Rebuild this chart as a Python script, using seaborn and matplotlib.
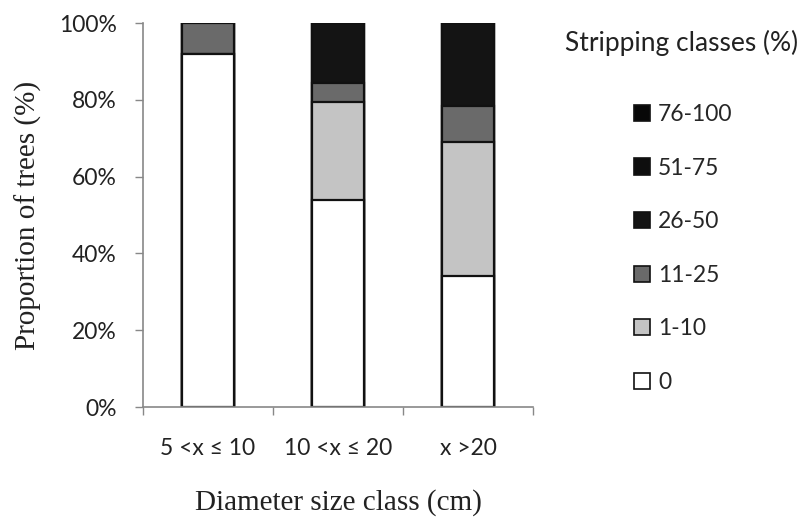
import matplotlib
matplotlib.use("Agg")
import matplotlib.pyplot as plt
import seaborn as sns
import pandas as pd
import numpy as np
from matplotlib.patches import Patch
from matplotlib.ticker import FixedLocator, PercentFormatter

sns.set_theme(style="white")
plt.rcParams['font.family'] = ['Lato', 'DejaVu Sans']

categories = ["5 <x \u2264 10", "10 <x \u2264 20", "x >20"]
classes = ["0", "1-10", "11-25", "26-50", "51-75", "76-100"]
v_0 = [92, 54, 34]
v_1_10 = [0, 25.5, 35]
v_11_25 = [8, 5, 9.5]
v_26_50 = [0, 15.5, 21.5]
v_51_75 = [0, 0, 0]
v_76_100 = [0, 0, 0]
colors = ["#ffffff", "#c4c4c4", "#6a6a6a", "#141414", "#0e0e0e", "#080808"]

series = [v_0, v_1_10, v_11_25, v_26_50, v_51_75, v_76_100]
cum = np.cumsum(np.array(series), axis=0)
rows = []
for cls, c in zip(classes, cum):
    for cat, val in zip(categories, c):
        rows.append({"cat": cat, "cls": cls, "cum": val})
df = pd.DataFrame(rows)

fig = plt.figure(figsize=(8.1, 5.19), dpi=100)
ax = fig.add_axes([143/810, 1-407/519, (533-143)/810, (407-23)/519])

for cls, col in reversed(list(zip(classes, colors))):
    sub = df[df.cls == cls]
    sns.barplot(data=sub, x="cat", y="cum", order=categories, color=col,
                width=0.4, edgecolor="#111111", linewidth=1.6, ax=ax,
                saturation=1, errorbar=None)

ax.set_xlim(-0.5, 2.5)
ax.set_ylim(0, 100)
ax.yaxis.set_major_locator(FixedLocator([0, 20, 40, 60, 80, 100]))
ax.yaxis.set_major_formatter(PercentFormatter(decimals=0))
ax.xaxis.set_minor_locator(FixedLocator([-0.5, 0.5, 1.5, 2.5]))
ax.tick_params(axis="x", which="major", length=0, labelsize=16.5, pad=22, colors="#222222")
ax.tick_params(axis="x", which="minor", length=6, width=1, color="#888888", direction="out", bottom=True)
ax.tick_params(axis="y", which="major", length=6, width=1, color="#888888", direction="out", left=True,
               labelsize=16.5, pad=13, labelcolor="#222222")
for s in ["top", "right"]:
    ax.spines[s].set_visible(False)
for s in ["left", "bottom"]:
    ax.spines[s].set_color("#888888")
    ax.spines[s].set_linewidth(1.2)

ax.set_xlabel("Diameter size class (cm)", family=["Liberation Serif"], fontsize=21, labelpad=22, color="#222222")
ax.set_ylabel("Proportion of trees (%)", family=["Liberation Serif"], fontsize=21, labelpad=12, color="#222222")

fig.text(565/810, 1-43/519, "Stripping classes (%)", fontsize=19, va="center", ha="left", color="#222222")
handles = [Patch(facecolor=c, edgecolor="#111111", linewidth=1.2, label=l)
           for l, c in zip(classes, colors)][::-1]
fig.legend(handles=handles, loc="upper left", bbox_to_anchor=(634/810, 1-104/519),
           bbox_transform=fig.transFigure, frameon=False, fontsize=16.5,
           handlelength=0.7, handleheight=0.7, handletextpad=0.35,
           labelspacing=1.42, borderpad=0, borderaxespad=0)

fig.savefig("out.png", dpi=100)
